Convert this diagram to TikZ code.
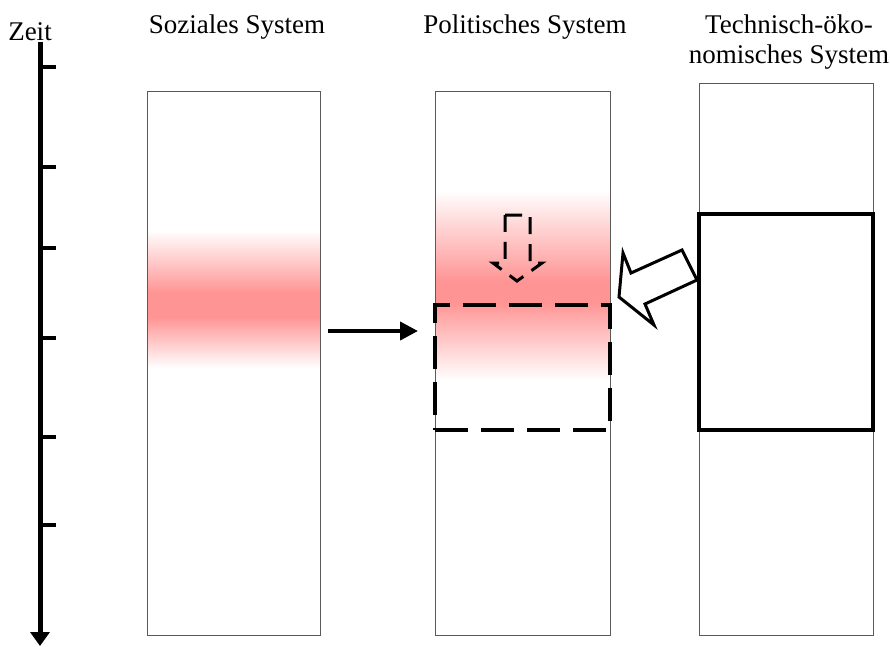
\documentclass[tikz,border=0pt]{standalone}
\usepackage{fontspec}
\setmainfont{Liberation Serif}
\usetikzlibrary{arrows.meta}
\definecolor{bandred}{RGB}{255,148,148}
\definecolor{framegray}{RGB}{90,90,90}

\begin{document}
\begin{tikzpicture}
  [x=1pt,y=-1pt,
   every node/.style={font=\fontsize{27}{30}\selectfont,inner sep=0pt},
   column/.style={draw=framegray,line width=1pt,minimum width=#1,minimum height=544pt},
   thickbox/.style={draw,line width=3.5pt},
   dashbox/.style={draw,line width=3.5pt,dash pattern=on 33pt off 13pt},
   tick/.style={line width=4pt}]
  \useasboundingbox (0,0) rectangle (890,646);

  % red bands (drawn before the frames)
  \shade[top color=white,bottom color=bandred] (148,230) rectangle (320,293);
  \fill[bandred] (148,293) rectangle (320,317);
  \shade[top color=bandred,bottom color=white] (148,317) rectangle (320,368);
  \shade[top color=white,bottom color=bandred] (436,190) rectangle (610,282);
  \fill[bandred] (436,282) rectangle (610,302);
  \shade[top color=bandred,bottom color=white] (436,302) rectangle (610,380);

  % the three systems
  \node[column=173pt] (sozial) at (233.5,363) {};
  \node[column=175pt] (politik) at (522.5,363) {};
  \node[column=174pt,minimum height=552pt] (technik) at (786,359) {};
  \node[anchor=base] (tsozial) at (237,33) {Soziales System};
  \node[anchor=base] (tpolitik) at (525,33) {Politisches System};
  \node[anchor=north,align=center] (ttechnik) at (789,15) {Technisch-öko-\\nomisches System};

  \node[thickbox,minimum width=174pt,minimum height=216pt] (schub) at (786,322) {};
  \node[dashbox,minimum width=175pt,minimum height=125pt] (umbruch) at (522.5,367.5) {};

  % time axis
  \coordinate (ztop) at (40,42);
  \coordinate (zend) at (40,646);
  \node[anchor=base] (zeit) at (30,40) {Zeit};
  \draw[line width=5pt,-{Triangle[length=14pt,width=19pt]}] (ztop) -- (zend);
  \foreach \y in {67,167,248,338,437,525}
    \draw[tick] (40,\y) -- (56,\y);

  % influence from the social system
  \coordinate (pfeilA) at (328,331);
  \coordinate (pfeilB) at (418,331);
  \draw[line width=4pt,-{Triangle[length=18pt,width=18pt]}] (pfeilA) -- (pfeilB);

  % pressure from the technical-economic system
  \draw[line width=3pt,fill=white,line join=miter]
    (619,297) -- (623,253) -- (631,273) -- (682,250) -- (697,280)
    -- (645,304) -- (654,325) -- cycle;

  % small dashed arrow inside the political system
  \draw[line width=3pt,dash pattern=on 17pt off 10pt]
    (505,215) -- (530,215) -- (530,263) -- (542,263) -- (517,281)
    -- (493,263) -- (505,263) -- cycle;
\end{tikzpicture}
\end{document}
